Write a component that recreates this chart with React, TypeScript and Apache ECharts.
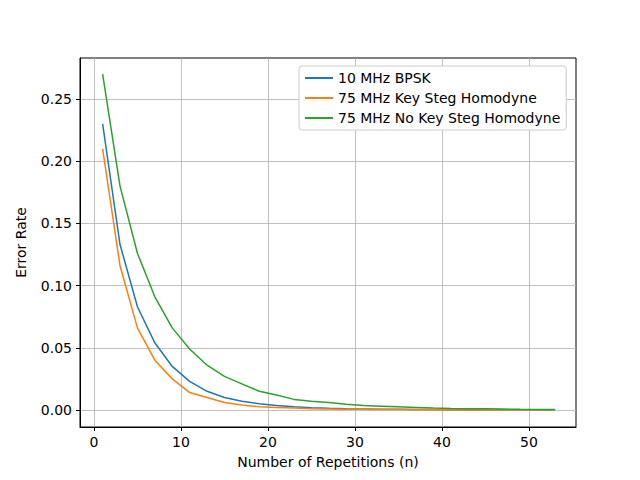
import React, { useEffect, useRef } from "react";
import * as echarts from "echarts";

const reps = [1,3,5,7,9,11,13,15,17,19,21,23,25,27,29,31,33,35,37,39,41,43,45,47,49,51,53];
const bpsk = [0.23,0.133,0.083,0.054,0.035,0.023,0.015,0.010,0.007,0.005,0.0035,0.0025,0.0018,0.0013,0.001,0.0008,0.0006,0.0005,0.0004,0.0003,0.0002,0.0002,0.0001,0.0001,0.0001,0.0001,0.0001];
const keySteg = [0.21,0.116,0.066,0.040,0.025,0.014,0.010,0.006,0.004,0.0025,0.002,0.0015,0.001,0.0008,0.0006,0.0005,0.0004,0.0003,0.0002,0.0002,0.0001,0.0001,0.0001,0.0001,0.0001,0.0001,0.0001];
const noKeySteg = [0.27,0.18,0.126,0.091,0.066,0.049,0.036,0.027,0.021,0.015,0.012,0.0085,0.007,0.006,0.0045,0.0035,0.003,0.0025,0.002,0.0015,0.0012,0.001,0.0009,0.0007,0.0005,0.0004,0.0003];
const xTicks = [0,10,20,30,40,50];
const yTicks = [0,0.05,0.1,0.15,0.2,0.25];

export default function App() {
  const ref = useRef<HTMLDivElement>(null);
  useEffect(() => {
    const chart = echarts.init(ref.current!, undefined, { renderer: "svg" });
    const font = "DejaVu Sans";
    const fs = 14;
    const mk = (name: string, data: number[], color: string) => ({
      name, type: "line", data: reps.map((r, i) => [r, data[i]]),
      showSymbol: false, lineStyle: { color, width: 1.5 }, itemStyle: { color },
    });
    chart.setOption({
      animation: false,
      textStyle: { fontFamily: font },
      grid: { left: 80, right: 64, top: 58, bottom: 53, show: true, borderColor: "#000", borderWidth: 1 },
      legend: {
        left: 299, top: 66, orient: "vertical", itemWidth: 28, itemHeight: 2, itemGap: 6,
        padding: [5, 6, 5, 6], borderColor: "#ccc", borderWidth: 1, borderRadius: 3, backgroundColor: "#fff",
        icon: "rect",
        textStyle: { fontFamily: font, fontSize: fs, color: "#000" },
        data: ["10 MHz BPSK", "75 MHz Key Steg Homodyne", "75 MHz No Key Steg Homodyne"],
      },
      xAxis: {
        type: "value", min: -1.6, max: 55.4,
        name: "Number of Repetitions (n)", nameLocation: "middle", nameGap: 28,
        nameTextStyle: { fontFamily: font, fontSize: fs, color: "#000" },
        axisLine: { onZero: false, lineStyle: { color: "#000" } },
        axisTick: { show: true, length: 4, customValues: xTicks, lineStyle: { color: "#000" } },
        axisLabel: { customValues: xTicks, fontFamily: font, fontSize: fs, color: "#000" },
        splitLine: { show: true, lineStyle: { color: "#b0b0b0", width: 0.8 } },
      },
      yAxis: {
        type: "value", min: -0.0137, max: 0.283,
        name: "Error Rate", nameLocation: "middle", nameGap: 52,
        nameTextStyle: { fontFamily: font, fontSize: fs, color: "#000" },
        axisLine: { show: true, onZero: false, lineStyle: { color: "#000" } },
        axisTick: { show: true, length: 4, customValues: yTicks, lineStyle: { color: "#000" } },
        axisLabel: { customValues: yTicks, fontFamily: font, fontSize: fs, color: "#000", formatter: (v: number) => v.toFixed(2) },
        splitLine: { show: true, lineStyle: { color: "#b0b0b0", width: 0.8 } },
      },
      series: [
        mk("10 MHz BPSK", bpsk, "#1f77b4"),
        mk("75 MHz Key Steg Homodyne", keySteg, "#ff7f0e"),
        mk("75 MHz No Key Steg Homodyne", noKeySteg, "#2ca02c"),
      ],
    });
    return () => chart.dispose();
  }, []);
  return <div ref={ref} style={{ width: 640, height: 480, position: "absolute", left: 0, top: 0 }} />;
}
